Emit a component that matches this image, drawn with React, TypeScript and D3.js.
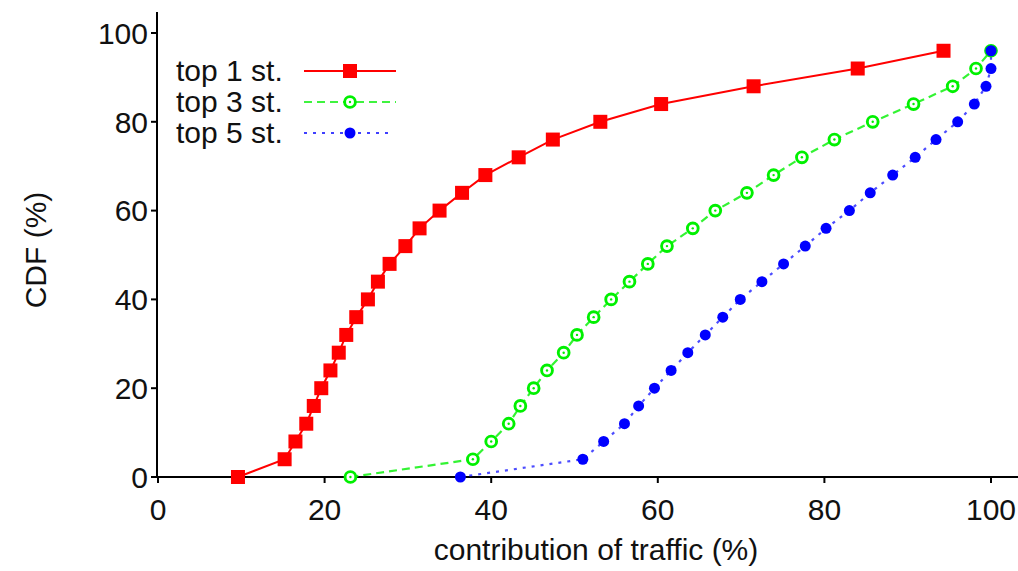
import React from "react";
import * as d3 from "d3";

const cdf = [0, 4, 8, 12, 16, 20, 24, 28, 32, 36, 40, 44, 48, 52, 56, 60, 64, 68, 72, 76, 80, 84, 88, 92, 96];
const top1X = [9.6, 15.2, 16.5, 17.8, 18.7, 19.6, 20.7, 21.7, 22.6, 23.8, 25.2, 26.4, 27.8, 29.7, 31.4, 33.8, 36.5, 39.3, 43.3, 47.4, 53.1, 60.4, 71.5, 84.0, 94.3];
const top3X = [23.1, 37.8, 40.0, 42.1, 43.5, 45.1, 46.7, 48.7, 50.3, 52.3, 54.4, 56.6, 58.8, 61.1, 64.2, 66.9, 70.7, 73.9, 77.3, 81.2, 85.8, 90.7, 95.4, 98.2, 100];
const top5X = [36.3, 51.0, 53.5, 56.0, 57.7, 59.6, 61.6, 63.6, 65.7, 67.8, 69.9, 72.5, 75.1, 77.7, 80.2, 83.0, 85.5, 88.2, 90.9, 93.4, 96.0, 98.0, 99.4, 100, 100];
const xTicks = [0, 20, 40, 60, 80, 100];
const yTicks = [0, 20, 40, 60, 80, 100];
const seriesNames = ["top 1 st.", "top 3 st.", "top 5 st."];
const xTitle = "contribution of traffic (%)";
const yTitle = "CDF (%)";

const W = 1018;
const H = 571;
const FONT = "'Liberation Sans', Arial, Helvetica, sans-serif";

export default function App() {
  const x = d3.scaleLinear().domain([0, 100]).range([158, 991]);
  const y = d3.scaleLinear().domain([0, 100]).range([477, 33]);

  const mk = (xs: number[]) => xs.map((v, i) => [v, cdf[i]] as [number, number]);
  const s1 = mk(top1X);
  const s3 = mk(top3X);
  const s5 = mk(top5X);
  const line = d3
    .line<[number, number]>()
    .x((d) => x(d[0]))
    .y((d) => y(d[1]));

  const red = "#ff0000";
  const green = "#00f000";
  const blue = "#0000ff";

  const square = (cx: number, cy: number, key: any) => (
    <rect key={key} x={cx - 7} y={cy - 7} width={14} height={14} fill={red} />
  );
  const openCircle = (cx: number, cy: number, key: any) => (
    <g key={key}>
      <circle cx={cx} cy={cy} r={5.4} fill="white" stroke={green} strokeWidth={2.9} />
      <circle cx={cx} cy={cy} r={1.2} fill={green} />
    </g>
  );
  const dot = (cx: number, cy: number, key: any) => (
    <circle key={key} cx={cx} cy={cy} r={5.5} fill={blue} />
  );

  const legendRows = [
    { name: seriesNames[0], color: red, dash: "none", end: 396, marker: square },
    { name: seriesNames[1], color: green, dash: "8,5", end: 396, marker: openCircle },
    { name: seriesNames[2], color: blue, dash: "3,6", end: 390, marker: dot },
  ];

  return (
    <svg
      width={W}
      height={H}
      style={{ position: "absolute", left: 0, top: 0, background: "white" }}
      fontFamily={FONT}
    >
      <rect x={0} y={0} width={W} height={H} fill="white" />
      {/* axes */}
      <line x1={157} y1={12} x2={157} y2={478} stroke="#000" strokeWidth={2} />
      <line x1={156} y1={477} x2={W} y2={477} stroke="#000" strokeWidth={2} />
      {yTicks.map((t) => (
        <g key={"yt" + t}>
          <line x1={151} x2={157} y1={y(t)} y2={y(t)} stroke="#000" strokeWidth={2} />
          <text x={148} y={y(t)} dy="0.36em" textAnchor="end" fontSize={30} fill="#111">
            {t}
          </text>
        </g>
      ))}
      {xTicks.map((t) => (
        <g key={"xt" + t}>
          <line x1={x(t)} x2={x(t)} y1={477} y2={483} stroke="#000" strokeWidth={2} />
          <text x={x(t)} y={520} textAnchor="middle" fontSize={30} fill="#111">
            {t}
          </text>
        </g>
      ))}
      <text x={596} y={560} textAnchor="middle" fontSize={30} fill="#111">
        {xTitle}
      </text>
      <text
        transform={`translate(46,250) rotate(-90)`}
        textAnchor="middle"
        fontSize={30}
        fill="#111"
      >
        {yTitle}
      </text>

      {/* series lines */}
      <path d={line(s1) || ""} fill="none" stroke={red} strokeWidth={2} />
      <path d={line(s3) || ""} fill="none" stroke={green} strokeWidth={2.2} strokeDasharray="8,5" opacity={0.8} />
      <path d={line(s5) || ""} fill="none" stroke={blue} strokeWidth={2.2} strokeDasharray="3,6" opacity={0.7} />

      {/* points */}
      {s1.map((d, i) => square(x(d[0]), y(d[1]), "p1" + i))}
      {s3.map((d, i) => openCircle(x(d[0]), y(d[1]), "p3" + i))}
      {s5.map((d, i) => dot(x(d[0]), y(d[1]), "p5" + i))}

      {/* legend */}
      {legendRows.map((r, i) => {
        const ly = 71 + i * 31;
        return (
          <g key={"lg" + i}>
            <text x={176} y={ly + 10} fontSize={30} fill="#111">
              {r.name}
            </text>
            <line
              x1={304}
              x2={r.end}
              y1={ly}
              y2={ly}
              stroke={r.color}
              strokeWidth={2.2}
              strokeDasharray={r.dash}
              opacity={i === 0 ? 1 : 0.75}
            />
            {r.marker(350, ly, "lm" + i)}
          </g>
        );
      })}
    </svg>
  );
}
